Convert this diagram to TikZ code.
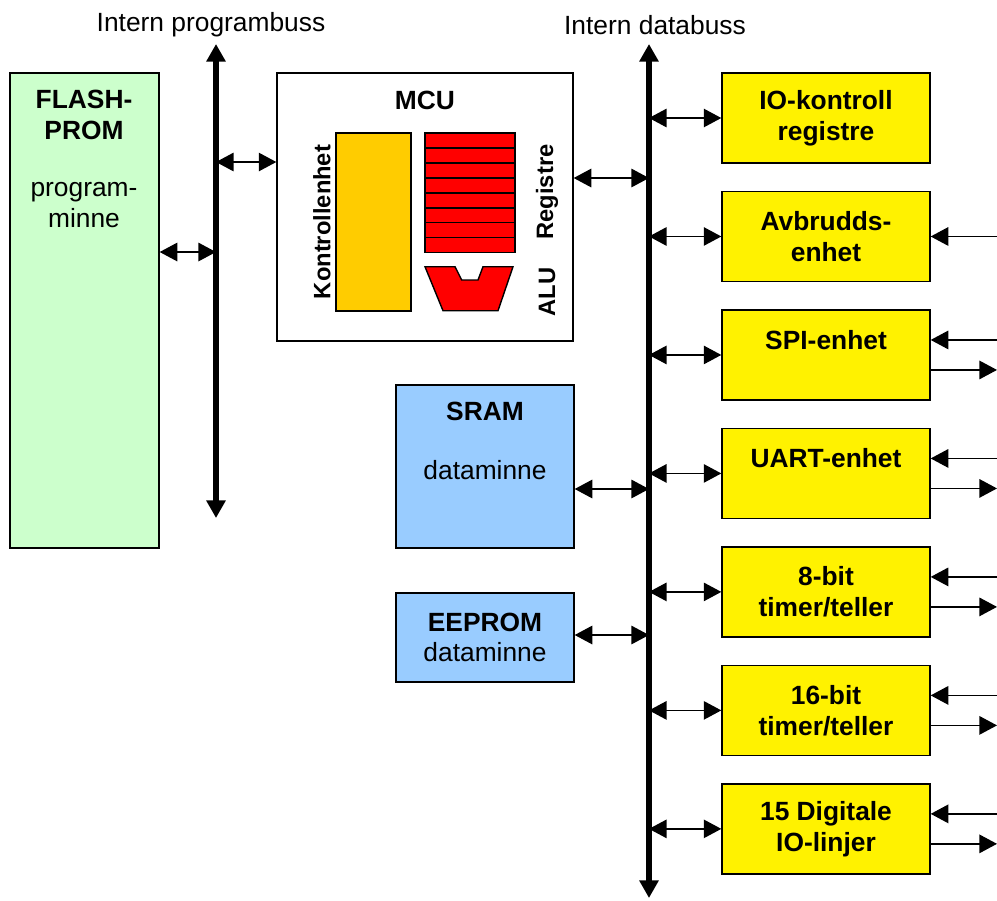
\documentclass[tikz,border=0pt]{standalone}
\usepackage{fontspec}
\setmainfont{Liberation Sans}
\usepackage{tikz}
\usetikzlibrary{arrows.meta,positioning}
\definecolor{flashgreen}{HTML}{CCFFCC}
\definecolor{ramblue}{HTML}{99CCFF}
\definecolor{ctrlorange}{HTML}{FFCC00}
\newcommand{\bigtxt}{\fontsize{15}{17.5}\selectfont}
\newcommand{\midtxt}{\fontsize{13.5}{16}\selectfont}

\begin{document}
\begin{tikzpicture}[x=0.02cm, y=-0.02cm, font=\bigtxt]
\tikzstyle{box}=[rectangle, draw=black, line width=0.8pt, inner sep=0pt]
\tikzstyle{unit}=[box, fill=yellow, minimum width=4.16cm, minimum height=1.8cm, align=center, font=\bigtxt\bfseries, node distance=2.37cm]
\tikzstyle{mem}=[box, fill=ramblue, minimum width=3.56cm]
\tikzstyle{reg}=[box, fill=red, minimum width=1.8cm, minimum height=0.299cm]
\tikzstyle{bus}=[line width=3.4pt, {Triangle[length=10pt,width=10.5pt]}-{Triangle[length=10pt,width=10.5pt]}]
\tikzstyle{dbl}=[line width=0.8pt, {Triangle[length=10pt,width=10.5pt]}-{Triangle[length=10pt,width=10.5pt]}]
\tikzstyle{sig}=[line width=0.8pt, -{Triangle[length=10pt,width=10.5pt]}]
\tikzstyle{side}=[font=\midtxt\bfseries, rotate=90]

  \useasboundingbox (0,0) rectangle (997,900);

  % buses
  \coordinate (ptop) at (216,44);
  \coordinate (pbot) at (216,518);
  \coordinate (dtop) at (649,44);
  \coordinate (dbot) at (649,898);
  \coordinate (edge) at (997,0);
  \node (plabel) at (211,25) {Intern programbuss};
  \node (dlabel) at (655,25) {Intern databuss};

  % program memory
  \node[box, fill=flashgreen, minimum width=2.98cm, minimum height=9.5cm] (flash) at (84.5,310.5) {};
  \node[align=center, font=\bigtxt\bfseries] (flashname) at (84,115) {FLASH-\\PROM};
  \node[align=center] (flashtext) at (84,205) {program-\\minne};

  % MCU
  \node[box, fill=white, minimum width=5.92cm, minimum height=5.36cm] (mcu) at (425,207) {};
  \node[font=\bigtxt\bfseries] (mcuname) at (425,100) {MCU};
  \node[box, fill=ctrlorange, minimum width=1.5cm, minimum height=3.56cm] (ctrl) at (373.5,222) {};
  \node[side] (ctrlname) at (322,222) {Kontrollenhet};
  \foreach \i in {0,...,7}
    \node[reg] (reg\i) at (470,{140.48+\i*14.96}) {};
  \draw[box, fill=red] (425,266.7) -- (455,266.7) -- (461.7,280) -- (478,280)
    -- (483,266.7) -- (513,266.7) -- (498,310.7) -- (443,310.7) -- cycle;
  \node[side] (regname) at (547,192) {Registre};
  \node[side] (aluname) at (547,292) {ALU};

  % data memory
  \node[mem, minimum height=3.26cm] (sram) at (485,466.5) {};
  \node[font=\bigtxt\bfseries] (sramname) at (485,411) {SRAM};
  \node (sramtext) at (485,470) {dataminne};
  \node[mem, minimum height=1.78cm, align=center] (eeprom) at (485,637.5) {\textbf{EEPROM}\\dataminne};

  % IO units
  \node[unit] (io) at (826,118)       {IO-kontroll\\registre};
  \node[unit] (irq)  [below of =io]   {Avbrudds-\\enhet};
  \node[unit] (spi)  [below of =irq]  {SPI-enhet\\\mbox{}};
  \node[unit] (uart) [below of =spi]  {UART-enhet\\\mbox{}};
  \node[unit] (tim8) [below of =uart] {8-bit\\timer/teller};
  \node[unit] (tim16)[below of =tim8] {16-bit\\timer/teller};
  \node[unit] (gpio) [below of =tim16]{15 Digitale\\IO-linjer};

  \draw[bus] (ptop) -- (pbot);
  \draw[bus] (dtop) -- (dbot);

  \draw[dbl] ([yshift=1.17cm]flash.east) -- ([yshift=1.17cm]flash.east -| ptop);
  \draw[dbl] ([yshift=0.9cm]mcu.west -| ptop) -- ([yshift=0.9cm]mcu.west);
  \draw[dbl] ([yshift=0.58cm]mcu.east) -- ([yshift=0.58cm]mcu.east -| dtop);
  \draw[dbl] ([yshift=-0.45cm]sram.east) -- ([yshift=-0.45cm]sram.east -| dtop);
  \draw[dbl] ([yshift=0.05cm]eeprom.east) -- ([yshift=0.05cm]eeprom.east -| dtop);

  \foreach \u in {io,irq,spi,uart,tim8,tim16,gpio}
    \draw[dbl] (\u.west -| dtop) -- (\u.west);

  \draw[sig] (irq.east -| edge) -- (irq.east);
  \foreach \u in {spi,uart,tim8,tim16,gpio} {
    \draw[sig] ([yshift=0.3cm]\u.east -| edge) -- ([yshift=0.3cm]\u.east);
    \draw[sig] ([yshift=-0.3cm]\u.east) -- ([yshift=-0.3cm]\u.east -| edge);
  }

\end{tikzpicture}
\end{document}
